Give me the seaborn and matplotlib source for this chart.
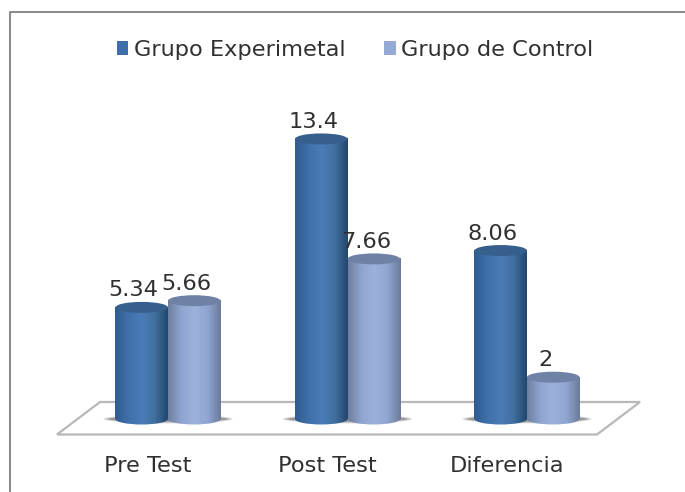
import numpy as np
import pandas as pd
import matplotlib
matplotlib.use("Agg")
import matplotlib.pyplot as plt
from matplotlib.lines import Line2D
from matplotlib.patches import Ellipse, Polygon
from matplotlib.transforms import ScaledTranslation
import matplotlib.colors as mc
import seaborn as sns

# ---- data ----
categories = ["Pre Test", "Post Test", "Diferencia"]
experimental = [5.34, 13.4, 8.06]
control = [5.66, 7.66, 2]
series_names = ["Grupo Experimetal", "Grupo de Control"]
value_labels = [["5.34", "13.4", "8.06"], ["5.66", "7.66", "2"]]

W, H = 685, 492
sns.set_theme(style="white")
plt.rcParams["font.family"] = ["DejaVu Sans"]
TXT = "#303030"
FS = 16.2

df = pd.DataFrame({
    "cat": categories * 2,
    "grupo": [series_names[0]] * 3 + [series_names[1]] * 3,
    "val": experimental + control,
})

fig = plt.figure(figsize=(W / 100, H / 100), dpi=100, facecolor="white")
# geometry in pixels
AL, AR, AT, AB = 40, 660, 100, 445
X0, DX = 168.0, 179.5
Y0, DY = 419.0, 20.9
ax = fig.add_axes([AL / W, 1 - AB / H, (AR - AL) / W, (AB - AT) / H])
ax.patch.set_visible(False)
ax.set_zorder(5)

pal = {series_names[0]: "#3f6fa8", series_names[1]: "#94a9d3"}
sns.barplot(data=df, x="cat", y="val", hue="grupo", palette=pal, width=0.585,
            gap=0, dodge=True, ax=ax, saturation=1, linewidth=0)
ax.set_xlim((AL - X0) / DX, (AR - X0) / DX)
ax.set_ylim((Y0 - AB) / DY, (Y0 - AT) / DY)
xl, yl = ax.get_xlim(), ax.get_ylim()

# frame (top and left only) and floor, in figure pixels
def fx(px): return px / W
def fy(py): return 1 - py / H
fig.add_artist(Line2D([fx(10), fx(10), fx(685)], [fy(492), fy(11.5), fy(11.5)],
                      color="#8c8c8c", lw=1.5, zorder=1))
floor_px = [(57, 434.5), (100, 402), (640, 402), (597, 434.5)]
fig.add_artist(Polygon([(fx(a), fy(b)) for a, b in floor_px], closed=True,
                       transform=fig.transFigure, facecolor="white",
                       edgecolor="#b8b8b8", lw=1.6, zorder=1))

cmap_exp = mc.LinearSegmentedColormap.from_list(
    "e", ["#2f5c90", "#3f6fa8", "#4a7cb8", "#42709f", "#22466f"])
cmap_ctl = mc.LinearSegmentedColormap.from_list(
    "c", ["#6f7f9f", "#8fa5cf", "#9db3de", "#90a6d0", "#6a7a9a"])
grad = np.linspace(0, 1, 128).reshape(1, -1)
ELL_H = 11 / DY

bars = [p for p in ax.patches if p.get_height() > 0]
# floor shadows
for i in range(len(categories)):
    for k, hh, a in zip((0.72, 0.69, 0.66), (0.42, 0.34, 0.26), (0.2, 0.25, 0.3)):
        ax.add_patch(Ellipse((i, 0.0), k, hh, facecolor="#505050", edgecolor="none",
                             alpha=a, zorder=1))

for n, b in enumerate(bars):
    x, w, h = b.get_x(), b.get_width(), b.get_height()
    is_exp = n < 3
    cmap = cmap_exp if is_exp else cmap_ctl
    top = "#375f8d" if is_exp else "#6f81a5"
    b.set_visible(False)
    z = 2 + n * 0.01 + (0 if is_exp else 0.1)
    # lower rounded end
    im = ax.imshow(grad, extent=(x, x + w, -ELL_H, ELL_H), aspect="auto", cmap=cmap,
                   zorder=z, interpolation="bilinear")
    im.set_clip_path(Ellipse((x + w / 2, 0), w, ELL_H, transform=ax.transData))
    # body
    ax.imshow(grad, extent=(x, x + w, 0, h), aspect="auto", cmap=cmap, zorder=z,
              interpolation="bilinear")
    # top
    ax.add_patch(Ellipse((x + w / 2, h), w, ELL_H, facecolor=top, edgecolor="none",
                         zorder=z + 0.001))
    # value label
    lab = value_labels[0 if is_exp else 1][n % 3]
    ax.annotate(lab, (x + w / 2, h), xytext=(-8 * 0.72, 17 * 0.72), textcoords="offset points",
                ha="center", va="center", fontsize=FS, color=TXT, zorder=10)

ax.set_xlim(xl)
ax.set_ylim(yl)
ax.set_xlabel("")
ax.set_ylabel("")
ax.set_yticks([])
ax.set_xticks(range(len(categories)))
ax.set_xticklabels(categories, fontsize=FS, color=TXT)
ax.tick_params(axis="x", length=0, pad=8)
shift = ScaledTranslation(-20 / 100, 0, fig.dpi_scale_trans)
for t in ax.get_xticklabels():
    t.set_transform(t.get_transform() + shift)
for s in ax.spines.values():
    s.set_visible(False)

handles, labels = ax.get_legend_handles_labels()
ax.get_legend().remove()
fig.legend(handles, labels, ncols=2, frameon=False, fontsize=FS, labelcolor=TXT,
           loc="center", bbox_to_anchor=(fx(355), fy(50)), handlelength=0.52, handleheight=0.52,
           handletextpad=0.25, columnspacing=1.7)

fig.savefig("out.png", dpi=100, facecolor="white")
